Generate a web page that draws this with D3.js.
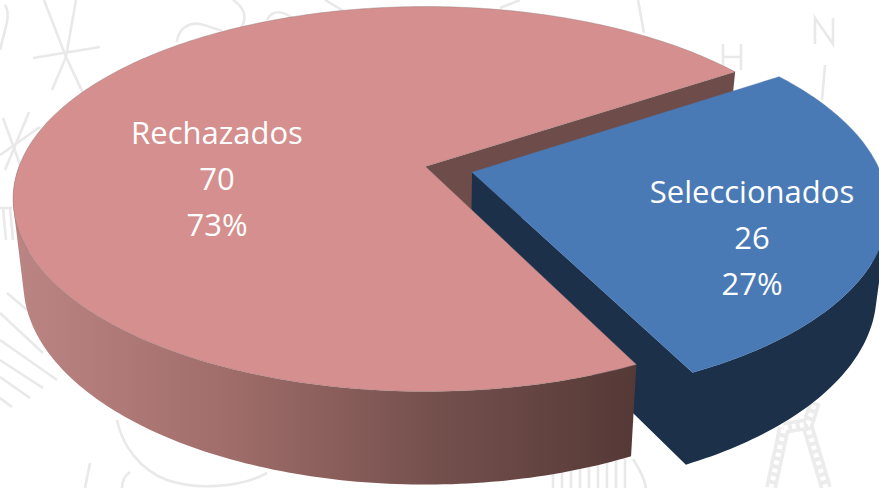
<!DOCTYPE html>
<html>
<head>
<meta charset="utf-8">
<script src="https://cdn.jsdelivr.net/npm/d3@7"></script>
<style>
  html, body { margin: 0; padding: 0; background: #fff; }
  svg { display: block; }
</style>
</head>
<body>
<div id="chart"></div>
<script>
const categories = ['Rechazados', 'Seleccionados'];
const values = [70, 26];
const percents = ['73%', '27%'];
const topColors = ['#d48f8e', '#4a7ab5'];
const wallColors = ['#6e4c49', '#1c3049'];
const explode = [0, 0.118];

// grey line art behind the pie
const backdrop = [
    'M44,0L66,57L83,93', 'M76,0L66,57L52,90', 'M33,58L100,47',
    'M3,118L22,170', 'M29,112L5,170', 'M0,155L40,127',
    'M5,5C12,15 3,35 0,50',
    'M177,42C178,28 190,22 200,24C210,26 215,30 222,30',
    'M233,0C245,8 248,18 240,30', 'M267,20C272,10 282,10 292,18',
    'M325,0L345,12', 'M638,0L644,33', 'M500,8L520,0',
    'M815,44V18L833,44V18', 'M723,44V70M741,44V70M723,57H741', 'M825,65L822,100',
    'M7,293L27,310', 'M0,313L43,353', 'M0,340L57,380', 'M0,360L43,388', 'M0,377L30,398', 'M0,398L12,407',
    'M117,420C122,445 140,470 167,480C195,490 240,488 267,473',
    'M90,463L85,488', 'M130,472C124,476 122,482 122,488',
    'M0,208L12,208M3,208L6,240M10,208L13,240',
    'M553,468V488M562,466V488M571,465V488M580,464V488M589,463V488M598,462V488M607,461V488M616,460V488M625,459V488',
    'M633,459C640,470 645,480 646,488'
];
const towerLegs = ['M771,488L784,428', 'M826,488L808,428', 'M784,428L808,424L815,402'];

const width = 879;
const height = 488;

// pie plane seen in perspective: radius 1 on the ground, k tilts it to the viewer
const cx = 425.5, cy = 166.5;
const ax = 406.5, ay = 187, k = 0.169;
const depth = 82, shrink = 0.975;

function project(gx, gy, bottom) {
    const w = 1 - k * gy;
    const s = bottom ? shrink : 1;
    return [cx + s * ax * gx / w, cy + (s * ay * gy + (bottom ? depth : 0)) / w];
}

const pieGen = d3.pie().sort(null).value(d => d)
    .startAngle((63.9 + 90) * Math.PI / 180)
    .endAngle((63.9 + 90 + 360) * Math.PI / 180);

// d3 angle 0 is at 12 o'clock, the ground plane angle starts at 3 o'clock
const slices = pieGen(values).map((d, i) => {
    const mid = (d.startAngle + d.endAngle) / 2 - Math.PI / 2;
    return {
        i,
        a0: d.startAngle - Math.PI / 2,
        a1: d.endAngle - Math.PI / 2,
        ox: explode[i] * Math.cos(mid),
        oy: explode[i] * Math.sin(mid)
    };
});

function rim(s, t, bottom) {
    return project(s.ox + Math.cos(t), s.oy + Math.sin(t), bottom);
}

function arcAngles(s) {
    const n = Math.ceil((s.a1 - s.a0) * 60);
    return d3.range(n + 1).map(j => s.a0 + (s.a1 - s.a0) * j / n);
}

function topPath(s) {
    const pts = [project(s.ox, s.oy, false)].concat(arcAngles(s).map(t => rim(s, t, false)));
    return d3.line()(pts) + 'Z';
}

// all quads wound the same way, otherwise they cancel where the rim turns round
function quadPath(pts) {
    const q = d3.polygonArea(pts) < 0 ? pts.slice().reverse() : pts;
    return d3.line()(q) + 'Z';
}

// quads between the two rims in one path, only the part facing the viewer
function rimPath(s) {
    return d3.pairs(arcAngles(s))
        .filter(p => Math.sin(p[0]) > 0)
        .map(p => quadPath([rim(s, p[0], false), rim(s, p[1], false), rim(s, p[1], true), rim(s, p[0], true)]))
        .join('');
}

function sideWall(s, t) {
    return quadPath([project(s.ox, s.oy, false), rim(s, t, false), rim(s, t, true), project(s.ox, s.oy, true)]);
}

const svg = d3.select('#chart').append('svg')
    .attr('width', width)
    .attr('height', height)
    .attr('viewBox', `0 0 ${width} ${height}`);

const grad = svg.append('defs').append('linearGradient')
    .attr('id', 'pinkWall')
    .attr('gradientUnits', 'userSpaceOnUse')
    .attr('x1', 13).attr('x2', 635).attr('y1', 0).attr('y2', 0);
[[0, '#bb8583'], [0.33, '#a26e6b'], [0.68, '#74504d'], [1, '#553936']].forEach(s => {
    grad.append('stop').attr('offset', s[0]).attr('stop-color', s[1]);
});

svg.append('g')
    .attr('fill', 'none')
    .attr('stroke', '#e9e9e9')
    .attr('stroke-width', 2.6)
    .selectAll('path')
    .data(backdrop)
    .join('path')
    .attr('d', d => d);

const tower = svg.append('g').attr('fill', 'none');
tower.selectAll('path.leg')
    .data(towerLegs)
    .join('path')
    .attr('class', 'leg')
    .attr('d', d => d)
    .attr('stroke', '#ececec')
    .attr('stroke-width', 12);
// white gaps make the legs read as lattice
tower.selectAll('path.gap')
    .data(towerLegs)
    .join('path')
    .attr('class', 'gap')
    .attr('d', d => d)
    .attr('stroke', '#fff')
    .attr('stroke-width', 5)
    .attr('stroke-dasharray', '4 4');

const pink = slices[0];
const blue = slices[1];

// back wall of the big slice, blue slice covers most of it
svg.append('path').attr('d', sideWall(pink, pink.a1)).attr('fill', wallColors[0]);

// blue slice: rim and cut wall as one shape, then top
svg.append('path')
    .attr('d', rimPath(blue) + sideWall(blue, blue.a1))
    .attr('fill', wallColors[1]);
svg.append('path')
    .attr('d', topPath(blue))
    .attr('fill', topColors[1])
    .attr('stroke', topColors[1])
    .attr('stroke-width', 0.4);

// big slice goes last, its front hides part of the navy wall
svg.append('path').attr('d', rimPath(pink)).attr('fill', 'url(#pinkWall)');
svg.append('path')
    .attr('d', topPath(pink))
    .attr('fill', topColors[0])
    .attr('stroke', '#8f7a79')
    .attr('stroke-width', 0.4);

// labels
const labelPos = [[217, 144], [752, 203]];
const labelGroups = svg.append('g')
    .attr('font-family', '"Open Sans", sans-serif')
    .attr('font-size', 31)
    .attr('fill', '#fff')
    .attr('text-anchor', 'middle')
    .selectAll('g')
    .data(categories)
    .join('g')
    .attr('transform', (d, i) => `translate(${labelPos[i][0]},${labelPos[i][1]})`);

labelGroups.selectAll('text')
    .data((d, i) => [d, String(values[i]), percents[i]])
    .join('text')
    .attr('y', (d, j) => j * 46)
    .text(d => d);
</script>
</body>
</html>
